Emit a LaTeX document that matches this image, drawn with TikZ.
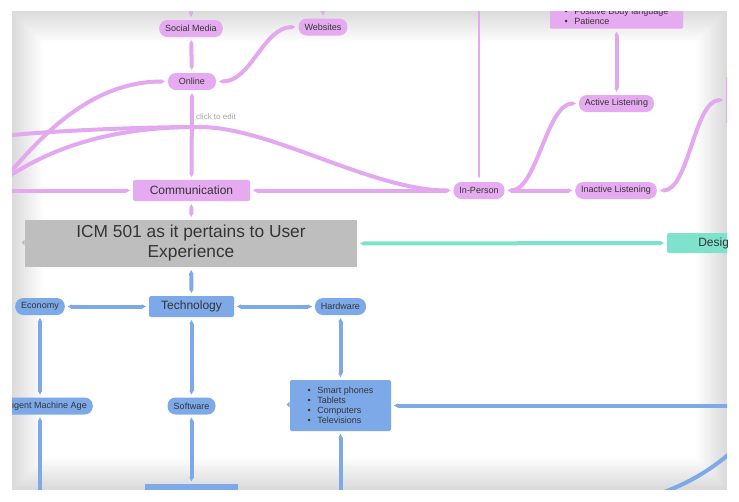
\documentclass[tikz,border=0pt]{standalone}
\usepackage{fontspec}
\setmainfont{Liberation Sans}
\usepackage{xcolor}
\definecolor{mapviolet}{HTML}{E6AAF0}
\definecolor{linkviolet}{HTML}{E3A8EF}
\definecolor{mapblue}{HTML}{7DA9E8}
\definecolor{mapteal}{HTML}{7FE2CD}
\definecolor{mapgray}{HTML}{BEBEBE}
\definecolor{maptext}{HTML}{353535}
\usetikzlibrary{arrows.meta, positioning}

\begin{document}
\begin{tikzpicture}[x=0.75pt, y=-0.75pt,
    every node/.style={text=maptext},
    pill/.style={rounded corners=6pt, inner xsep=4.5pt, inner ysep=0pt, minimum height=12.75pt, minimum width=36pt, font=\fontsize{6.75}{8}\selectfont},
    topic/.style={rounded corners=1.5pt, inner sep=0pt, minimum height=15.75pt, font=\fontsize{9}{11}\selectfont},
    notebox/.style={rounded corners=1pt, inner xsep=6pt, inner ysep=3pt, align=left, font=\fontsize{6.75}{7.6}\selectfont},
    link/.style={line width=3pt, arrows={Triangle[length=3pt,width=0pt 1]-Triangle[length=3pt,width=0pt 1]}, shorten <=2pt, shorten >=2pt}]
    \useasboundingbox (0,0) rectangle (739,501);
    \fill[white] (0,0) rectangle (739,501);
    \begin{scope}
    \clip (12,11) rectangle (727,489);
    % Frame shadow
    \foreach \k in {1,...,18} {
        \draw[black, opacity=0.007, line width=\k*2.6pt] (12,11) rectangle (727,489);
    }
    % Off-screen ends
    \coordinate (socialUp) at (191,-5);
    \coordinate (webUp) at (323,-5);
    \coordinate (ipUp) at (479,-5);
    \coordinate (offOnline) at (-5,190);
    \coordinate (offComm) at (-10,190.5);
    \coordinate (offLeftA) at (-10,138);
    \coordinate (offLeftC) at (-10,190);
    \coordinate (bend) at (200,127);
    \coordinate (machineDown) at (40,510);
    \coordinate (devDown) at (340.5,510);
    \coordinate (devRight) at (760,405.5);
    \coordinate (arcA) at (650,497);
    \coordinate (arcB) at (745,440);
    % Communication branch
    \node[pill, fill=mapviolet] (social) at (191,28.5) {Social Media};
    \node[pill, fill=mapviolet] (websites) at (323,27) {Websites};
    \node[pill, fill=mapviolet] (online) at (192,81.5) {Online};
    \node[text=gray!70, font=\fontsize{6}{7}\selectfont] (hint) at (216,117) {click to edit};
    \node[topic, fill=mapviolet, minimum width=87.75pt] (comm) at (191.5,190.5) {Communication};
    \node[pill, fill=mapviolet] (inperson) at (479,190.5) {In-Person};
    \node[pill, fill=mapviolet] (active) at (616.5,103.5) {Active Listening};
    \node[pill, fill=mapviolet] (inactive) at (616,190.5) {Inactive Listening};
    \node[notebox, fill=mapviolet, minimum width=99.75pt, anchor=south] (traits) at (616.5,29)
        {\textbullet\hspace{5pt}Positive Body language\\\textbullet\hspace{5pt}Patience};
    \node[fill=mapviolet, minimum width=45pt, minimum height=34.5pt, anchor=west] (rightnode) at (726,100) {};
    % Central topic
    \node[fill=mapgray, minimum width=249pt, minimum height=35.25pt, align=center, font=\fontsize{13}{15}\selectfont] (icm) at (191,243.5)
        {ICM 501 as it pertains to User\\Experience};
    \node[topic, fill=mapteal, minimum width=75pt, minimum height=15pt] (design) at (717,243) {Design};
    % Technology branch
    \node[topic, fill=mapblue, minimum width=63.75pt] (tech) at (191.5,306.5) {Technology};
    \node[pill, fill=mapblue] (economy) at (40,306.5) {Economy};
    \node[pill, fill=mapblue] (hardware) at (340.5,306.5) {Hardware};
    \node[pill, fill=mapblue] (machine) at (40,406) {Intelligent Machine Age};
    \node[pill, fill=mapblue] (software) at (191.5,406) {Software};
    \node[notebox, fill=mapblue, minimum width=75.75pt, minimum height=38.25pt] (devices) at (340.5,405.5)
        {\textbullet\hspace{5pt}Smart phones\\\textbullet\hspace{5pt}Tablets\\\textbullet\hspace{5pt}Computers\\\textbullet\hspace{5pt}Televisions};
    \node[fill=mapblue, minimum width=69.75pt, minimum height=20pt, anchor=north] (stack) at (191.5,484) {};
    % Notches
    \fill[mapgray] ([yshift=3pt]icm.west) -- ++(-3,3) -- ++(3,3) -- cycle;
    \fill[mapblue] ([yshift=3pt]devices.west) -- ++(-3,3) -- ++(3,3) -- cycle;
    % Violet links
    \begin{scope}[draw=linkviolet]
    \draw[link] (online) -- (social);
    \draw[link] (social) -- (socialUp);
    \draw[link] (websites) -- (webUp);
    \draw[link] (online.east) .. controls +(35,0) and +(-35,0) .. (websites.west);
    \draw[link] (comm) -- (online);
    \draw[link] (online.west) .. controls +(-85,0) and +(35,-40) .. (offOnline);
    \draw[link] (comm.west) -- (offComm);
    \draw[link] (comm.east) -- (inperson.west);
    \draw[link] (inperson.west) .. controls +(-81,0) and +(70,0) .. (bend) .. controls +(-80,0) and +(30,-5) .. (offLeftA);
    \draw[link, shorten >=0pt] (offLeftC) .. controls +(40,-30) and +(-110,0) .. (bend);
    \draw[link, line width=1.5pt] (inperson) -- (ipUp);
    \draw[link] (inperson.east) .. controls +(32,0) and +(-32,0) .. (active.west);
    \draw[link] (inperson) -- (inactive);
    \draw[link] (active) -- (traits);
    \draw[link] (inactive.east) .. controls +(32,0) and +(-32,0) .. (rightnode.west);
    \draw[link] (icm) -- (comm);
    \end{scope}
    \draw[link, draw=mapteal] (icm.east) -- (design.west);
    % Blue links
    \begin{scope}[draw=mapblue]
    \draw[link] (icm) -- (tech);
    \draw[link] (tech) -- (economy);
    \draw[link] (tech) -- (hardware);
    \draw[link] (tech) -- (software);
    \draw[link] (economy) -- (machine);
    \draw[link] (machine) -- (machineDown);
    \draw[link] (software) -- (stack);
    \draw[link] (hardware) -- (devices);
    \draw[link] (devices) -- (devDown);
    \draw[link] (devices.east) -- (devRight);
    \draw[line width=3pt] (arcA) .. controls +(40,-13) and +(-30,28) .. (arcB);
    \end{scope}
    \end{scope}
\end{tikzpicture}
\end{document}
